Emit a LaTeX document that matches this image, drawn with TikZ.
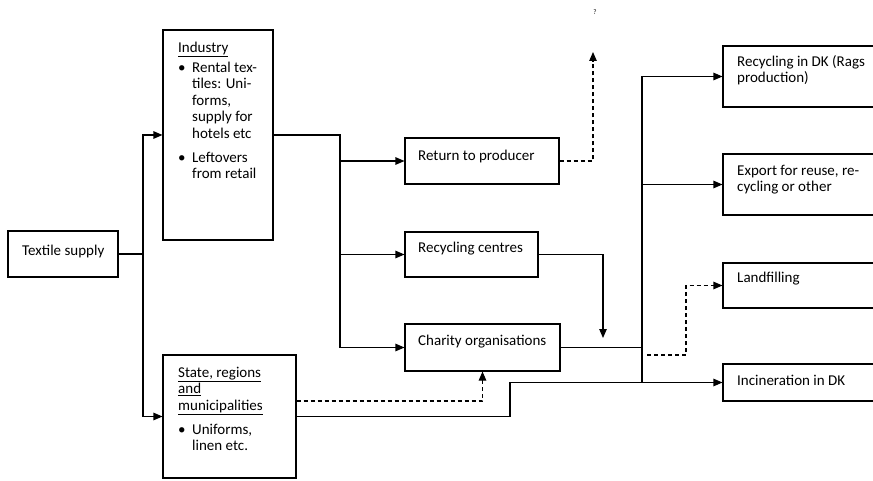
\documentclass[tikz,border=0pt]{standalone}
\usepackage{fontspec}
\setmainfont{Carlito}
\usetikzlibrary{arrows.meta}
\begin{document}
\begin{tikzpicture}[x=1pt,y=-1pt,
  font=\fontsize{15}{16.5}\selectfont,
  boxnode/.style={draw,line width=1.1pt,inner sep=0pt},
  txt/.style={inner sep=0pt,anchor=north west,align=left},
  conn/.style={line width=1.1pt},
  arr/.style={conn,-{Triangle[length=9pt,width=7.5pt]}},
  darr/.style={arr,dash pattern=on 4pt off 3pt},
  dline/.style={conn,dash pattern=on 4pt off 3pt}]
\clip (0,0) rectangle (873,481);
% boxes
\node[boxnode,minimum width=110pt,minimum height=46pt] (ts) at (63,254) {};
\node[boxnode,minimum width=110pt,minimum height=210pt] (ind) at (218,135) {};
\node[boxnode,minimum width=133pt,minimum height=123pt] (st) at (229.5,416.5) {};
\node[boxnode,minimum width=154pt,minimum height=46pt] (ret) at (482,161) {};
\node[boxnode,minimum width=133pt,minimum height=45pt] (rec) at (471.5,254.5) {};
\node[boxnode,minimum width=155pt,minimum height=47pt] (ch) at (482.5,347.5) {};
\node[boxnode,minimum width=160pt,minimum height=61pt] (rdk) at (803,76.5) {};
\node[boxnode,minimum width=160pt,minimum height=61pt] (exp) at (803,184.5) {};
\node[boxnode,minimum width=160pt,minimum height=45pt] (land) at (803,285.5) {};
\node[boxnode,minimum width=160pt,minimum height=37pt] (inc) at (803,382.5) {};
% texts
\node[txt] (tst) at (22,243.5) {\strut Textile supply};
\node[txt] (tind) at (178,40.5) {\strut\underline{Industry}\\[3.5pt]
  \makebox[14pt][l]{•}Rental tex-\\
  \hspace*{14pt}tiles: Uni-\\
  \hspace*{14pt}forms,\\
  \hspace*{14pt}supply for\\
  \hspace*{14pt}hotels etc\\[7.5pt]
  \makebox[14pt][l]{•}Leftovers\\
  \hspace*{14pt}from retail};
\node[txt] (tstate) at (178,365.5) {\strut\underline{State, regions}\\
  \underline{and}\\
  \underline{municipalities}\\[7.5pt]
  \makebox[14pt][l]{•}Uniforms,\\
  \hspace*{14pt}linen etc.};
\node[txt] (tret) at (418,148.5) {\strut Return to producer};
\node[txt] (trec) at (418,240.5) {\strut Recycling centres};
\node[txt] (tch) at (418,333.5) {\strut Charity organisations};
\node[txt] (trdk) at (737,54.5) {\strut Recycling in DK (Rags\\production)};
\node[txt] (texp) at (737,163.5) {\strut Export for reuse, re-\\cycling or other};
\node[txt] (tland) at (737,270.5) {\strut Landfilling};
\node[txt] (tinc) at (737,373.5) {\strut Incineration in DK};
\node[inner sep=0pt,font=\fontsize{7}{8}\selectfont] (qm) at (595,12) {?};
% coordinates
\coordinate (j1) at (143,254);
\coordinate (b1) at (340,135);
\coordinate (b2) at (340,347.5);
\coordinate (q) at (593,52);
\coordinate (r1) at (603,338);
\coordinate (t1) at (642,76.5);
\coordinate (t2) at (642,382.5);
\coordinate (s1) at (510,416.5);
\coordinate (d1) at (647,355);
\coordinate (d2) at (686,355);
% connectors
\draw[conn] (ts.east) -- (j1);
\draw[arr] (j1) |- (ind.west);
\draw[arr] (j1) |- (st.west);
\draw[conn] (ind.east) -- (b1) -- (b2);
\draw[arr] (b1 |- ret.west) -- (ret.west);
\draw[arr] (b1 |- rec.west) -- (rec.west);
\draw[arr] (b2) -- (ch.west);
\draw[darr] (ret.east) -| (q);
\draw[arr] (rec.east) -| (r1);
\draw[conn] (ch.east) -- (ch.east -| t1);
\draw[conn] (t1) -- (t2);
\draw[arr] (t1) -- (rdk.west);
\draw[arr] (t1 |- exp.west) -- (exp.west);
\draw[arr] (st.east) -- (s1) |- (inc.west);
\draw[darr] (st.east |- 0,401) -| (ch.south);
\draw[darr] (d1) -- (d2) |- (land.west);
\end{tikzpicture}
\end{document}
